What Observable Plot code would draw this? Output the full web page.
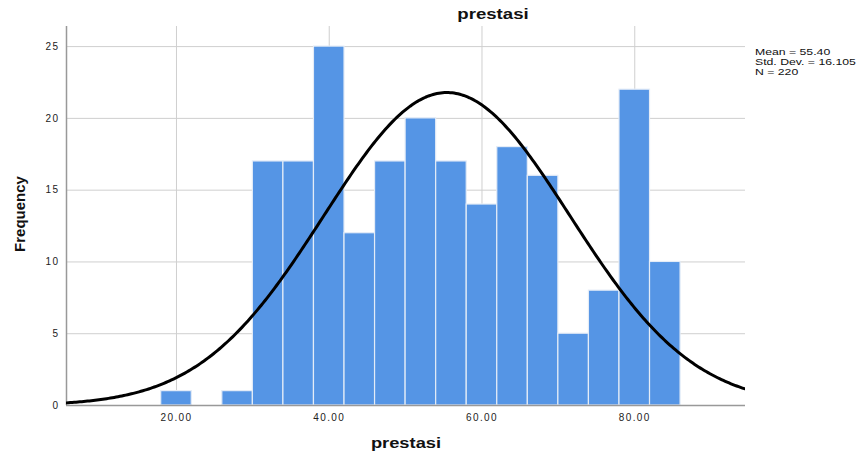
<!DOCTYPE html>
<html><head><meta charset="utf-8">
<script src="https://cdn.jsdelivr.net/npm/d3@7"></script>
<script src="https://cdn.jsdelivr.net/npm/@observablehq/plot@0.6"></script>
<style>
body{margin:0;background:#fff;font-family:"Liberation Sans",Arial,sans-serif;}
#wrap{position:relative;width:867px;height:461px;}
.t{position:absolute;color:#111;white-space:nowrap;}
#wrap svg g[aria-label^="x-axis tick label"] text, #wrap svg g[aria-label^="y-axis tick label"] text{letter-spacing:1.4px;}
</style></head><body>
<div id="wrap"></div>
<script>
const binStarts = [18,22,26,30,34,38,42,46,50,54,58,62,66,70,74,78,82];
const binWidth = 4;
const counts = [1,0,1,17,17,25,12,17,20,17,14,18,16,5,8,22,10];
const meanVal = 55.40, sdVal = 16.105, nVal = 220;
const xTicks = [20,40,60,80];
const yTicks = [0,5,10,15,20,25];

const bins = binStarts.map((s,i)=>({x1:s,x2:s+binWidth,y:counts[i]})).filter(d=>d.y>0);
const curve = d3.range(5.6, 94.55, 0.25).map(x=>({x, y: nVal*binWidth*Math.exp(-0.5*((x-meanVal)/sdVal)**2)/(sdVal*Math.sqrt(2*Math.PI))}));

const chart = Plot.plot({
  width:867, height:461,
  marginLeft:66, marginRight:122, marginTop:26, marginBottom:56,
  style:{fontFamily:'"Liberation Sans",Arial,sans-serif', fontSize:"10px", color:"#000", background:"#fff"},
  x:{domain:[5.6,94.5], label:null},
  y:{domain:[0,26.4], label:null},
  marks:[
    Plot.gridY(yTicks,{stroke:"#cfcfcf", strokeOpacity:1, strokeWidth:1}),
    Plot.gridX(xTicks,{stroke:"#cfcfcf", strokeOpacity:1, strokeWidth:1}),
    Plot.rectY(bins,{x1:"x1",x2:"x2",y:"y",fill:"#5595e5",stroke:"#e4ecf7",strokeWidth:1.2,inset:0}),
    Plot.ruleY([0],{stroke:"#999",strokeWidth:1.5}),
    Plot.ruleX([5.6],{stroke:"#999",strokeWidth:1.5}),
    Plot.line(curve,{x:"x",y:"y",stroke:"#000",strokeWidth:3,clip:true}),
    Plot.axisX(xTicks,{tickSize:0,tickPadding:8,tickFormat:d=>d.toFixed(2),fontSize:10,fill:"#222"}),
    Plot.axisY(yTicks,{tickSize:0,tickPadding:7,fontSize:10,fill:"#222"})
  ]
});
const wrap = document.getElementById("wrap");
wrap.appendChild(chart);
function addText(txt, css){const d=document.createElement("div");d.className="t";d.textContent=txt;Object.assign(d.style,css);wrap.appendChild(d);return d;}
addText("prestasi",{left:"493px",top:"5px",transform:"translateX(-50%) scaleX(1.24)",fontWeight:"bold",fontSize:"15px"});
addText("prestasi",{left:"405.5px",top:"434px",transform:"translateX(-50%) scaleX(1.22)",fontWeight:"bold",fontSize:"15px"});
addText("Frequency",{left:"19px",top:"214px",transform:"translate(-50%,-50%) rotate(-90deg)",fontWeight:"bold",fontSize:"15px"});
const stats = addText("",{left:"755px",top:"46.5px",fontSize:"9px",lineHeight:"10px",transform:"scaleX(1.36)",transformOrigin:"left top"});
stats.innerHTML = `Mean = ${meanVal.toFixed(2)}<br>Std. Dev. = ${sdVal.toFixed(3)}<br>N = ${nVal}`;
</script>
</body></html>
